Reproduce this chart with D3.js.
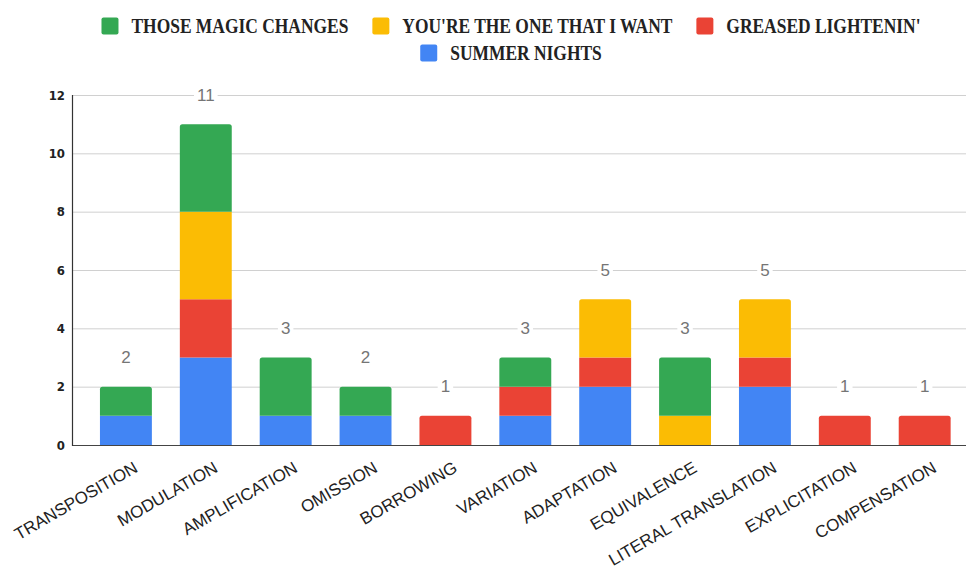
<!DOCTYPE html>
<html><head><meta charset="utf-8">
<script src="https://cdn.jsdelivr.net/npm/d3@7"></script>
<style>
html,body{margin:0;padding:0;background:#fff;}
svg{display:block;}
</style></head>
<body>
<svg id="chart" width="966" height="569"></svg>
<script>
const categories = ["TRANSPOSITION","MODULATION","AMPLIFICATION","OMISSION","BORROWING","VARIATION","ADAPTATION","EQUIVALENCE","LITERAL TRANSLATION","EXPLICITATION","COMPENSATION"];
// stack order bottom -> top
const seriesNames = ["SUMMER NIGHTS","GREASED LIGHTENIN'","YOU'RE THE ONE THAT I WANT","THOSE MAGIC CHANGES"];
const summerNights      = [1,3,1,1,0,1,2,0,2,0,0];
const greasedLightenin  = [0,2,0,0,1,1,1,0,1,1,1];
const youreTheOne       = [0,3,0,0,0,0,2,1,2,0,0];
const thoseMagicChanges = [1,3,2,1,0,1,0,2,0,0,0];
const yTicks = [0,2,4,6,8,10,12];
const legendOrder = ["THOSE MAGIC CHANGES","YOU'RE THE ONE THAT I WANT","GREASED LIGHTENIN'","SUMMER NIGHTS"];
const colors = {"SUMMER NIGHTS":"#4285F4","GREASED LIGHTENIN'":"#EA4335","YOU'RE THE ONE THAT I WANT":"#FBBC04","THOSE MAGIC CHANGES":"#34A853"};

const seriesValues = [summerNights, greasedLightenin, youreTheOne, thoseMagicChanges];
const rows = categories.map((c,i)=>{
  const r = {cat:c};
  seriesNames.forEach((s,j)=> r[s] = seriesValues[j][i]);
  return r;
});
const totals = categories.map((c,i)=> d3.sum(seriesValues, v=>v[i]));

const svg = d3.select("#chart");
const x = d3.scaleBand().domain(categories).range([72, 978.6]).paddingInner(0.35).paddingOuter(0.35);
const y = d3.scaleLinear().domain([0,12]).range([445,95]);

// gridlines
svg.append("g").selectAll("line").data(yTicks.filter(t=>t>0)).join("line")
  .attr("x1",72).attr("x2",966).attr("y1",d=>y(d)+0.5).attr("y2",d=>y(d)+0.5)
  .attr("stroke","#d0d0d0").attr("stroke-width",1);

// y axis labels
svg.append("g").selectAll("text").data(yTicks).join("text")
  .attr("x",65).attr("y",d=>y(d)).attr("text-anchor","end").attr("dominant-baseline","central")
  .attr("font-family","'Liberation Sans Narrow','DejaVu Sans Condensed','Liberation Sans',sans-serif")
  .attr("font-weight","bold").attr("font-size","13px").attr("fill","#222")
  .text(d=>d);

// bars
const stack = d3.stack().keys(seriesNames);
const stacked = stack(rows);
const bw = x.bandwidth();
function segPath(x0,y0,y1,w,round){
  const r = round ? Math.min(2.5, (y0-y1)/2) : 0;
  return `M${x0},${y0}L${x0},${y1+r}Q${x0},${y1} ${x0+r},${y1}L${x0+w-r},${y1}Q${x0+w},${y1} ${x0+w},${y1+r}L${x0+w},${y0}Z`;
}
stacked.forEach((layer, li)=>{
  svg.append("g").selectAll("path").data(layer.map((d,i)=>({d,i}))).join("path")
    .filter(o=>o.d[1]-o.d[0]>0)
    .attr("d",o=>{
      const isTop = o.d[1] === totals[o.i];
      return segPath(x(categories[o.i]), y(o.d[0]), y(o.d[1]), bw, isTop);
    })
    .attr("fill",colors[layer.key]);
});

// axes lines
svg.append("line").attr("x1",72).attr("x2",966).attr("y1",445.5).attr("y2",445.5).attr("stroke","#444").attr("stroke-width",1.2);
svg.append("line").attr("x1",72.5).attr("x2",72.5).attr("y1",95).attr("y2",446).attr("stroke","#333").attr("stroke-width",1.2);

// total labels
const tl = svg.append("g").selectAll("g").data(categories).join("g")
  .attr("transform",(c,i)=>`translate(${x(c)+bw/2},${y(totals[i]+1)})`);
tl.append("text").attr("text-anchor","middle").attr("dominant-baseline","central")
  .attr("font-family","'Liberation Sans',Arial,sans-serif").attr("font-size","17px").attr("fill","#757575")
  .text((c,i)=>totals[i]);
tl.each(function(){
  const g = d3.select(this);
  const bb = g.select("text").node().getBBox();
  g.insert("rect","text").attr("x",bb.x-3).attr("y",bb.y+2).attr("width",bb.width+6).attr("height",bb.height-4).attr("fill","#fff");
});

// x labels
svg.append("g").selectAll("text").data(categories).join("text")
  .attr("transform",c=>`translate(${x(c)+bw/2+13},471) rotate(-30)`)
  .attr("text-anchor","end")
  .attr("font-family","'Liberation Sans',Arial,sans-serif").attr("font-size","17px").attr("fill","#222")
  .text(c=>c);

// legend
const legendRows = [legendOrder.slice(0,3), legendOrder.slice(3)];
const rowY = [17.5, 44.5];
const sw = 17, gapST = 13, gapItems = 24, squeeze = 0.85;
legendRows.forEach((items, ri)=>{
  const g = svg.append("g");
  const parts = items.map(name=>{
    const t = g.append("text").attr("font-family","'Liberation Serif','Times New Roman',serif")
      .attr("font-weight","bold").attr("font-size","20.5px").attr("fill","#222").text(name);
    const w = t.node().getComputedTextLength()*squeeze;
    t.attr("textLength",w).attr("lengthAdjust","spacingAndGlyphs");
    return {name,t,w};
  });
  const total = d3.sum(parts,p=>sw+gapST+p.w) + gapItems*(parts.length-1);
  let cx = 511 - total/2;
  parts.forEach(p=>{
    g.append("rect").attr("x",cx).attr("y",rowY[ri]).attr("width",sw).attr("height",sw).attr("rx",2).attr("fill",colors[p.name]);
    p.t.attr("x",cx+sw+gapST).attr("y",rowY[ri]+15.5);
    cx += sw+gapST+p.w+gapItems;
  });
});
</script>
</body></html>
